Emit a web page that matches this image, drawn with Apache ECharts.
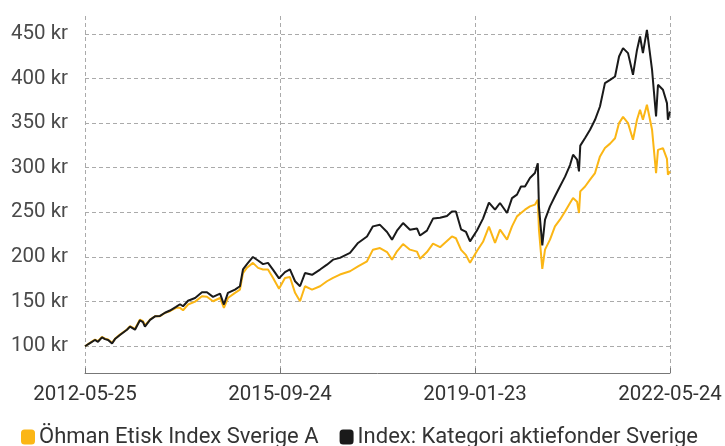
<!DOCTYPE html>
<html>
<head>
<meta charset="utf-8">
<script src="https://cdn.jsdelivr.net/npm/echarts@6/dist/echarts.min.js"></script>
<style>
  html, body { margin: 0; padding: 0; background: #fff; }
  #chart { width: 725px; height: 446px; }
</style>
</head>
<body>
<div id="chart"></div>
<script>
const dates = [
  '2012-05-25', '2012-06-25', '2012-07-26', '2012-08-14', '2012-09-08', '2012-09-27', '2012-10-16', '2012-11-10',
  '2012-11-28', '2012-12-29', '2013-02-11', '2013-03-02', '2013-04-02', '2013-05-03', '2013-05-22', '2013-06-03',
  '2013-07-05', '2013-08-05', '2013-09-05', '2013-10-06', '2013-11-06', '2013-12-14', '2014-01-08', '2014-01-27',
  '2014-02-27', '2014-04-12', '2014-05-25', '2014-06-25', '2014-08-02', '2014-09-15', '2014-10-09', '2014-11-03',
  '2014-12-17', '2015-01-17', '2015-02-05', '2015-03-02', '2015-04-08', '2015-05-10', '2015-06-10', '2015-07-11',
  '2015-08-11', '2015-09-18', '2015-10-25', '2015-11-25', '2015-12-27', '2016-01-27', '2016-02-27', '2016-04-11',
  '2016-05-31', '2016-07-13', '2016-08-20', '2016-10-02', '2016-12-04', '2017-01-23', '2017-03-20', '2017-04-26',
  '2017-06-09', '2017-07-23', '2017-08-23', '2017-09-23', '2017-10-31', '2017-12-13', '2018-01-26', '2018-02-14',
  '2018-03-29', '2018-05-06', '2018-06-19', '2018-08-01', '2018-09-01', '2018-09-26', '2018-10-28', '2018-11-28',
  '2018-12-23', '2019-02-05', '2019-03-14', '2019-04-20', '2019-05-28', '2019-06-28', '2019-08-11', '2019-09-11',
  '2019-10-12', '2019-11-06', '2019-12-01', '2020-01-01', '2020-02-01', '2020-02-19', '2020-02-26', '2020-03-18',
  '2020-04-04', '2020-05-05', '2020-06-05', '2020-07-06', '2020-08-07', '2020-09-07', '2020-09-26', '2020-10-21',
  '2020-11-02', '2020-11-10', '2020-12-10', '2021-01-10', '2021-02-10', '2021-03-13', '2021-04-13', '2021-05-15',
  '2021-06-15', '2021-07-10', '2021-08-04', '2021-09-04', '2021-10-05', '2021-10-30', '2021-11-18', '2021-12-06',
  '2021-12-31', '2022-02-01', '2022-02-26', '2022-03-10', '2022-04-10', '2022-05-05', '2022-05-11', '2022-05-24'
]

const ohman = [
  100, 103.8, 107.5, 105.6, 110.5, 108.3, 107.5, 103.8,
  108.3, 113, 118.7, 122.4, 119.5, 129.9, 128, 123.2,
  129.9, 133.6, 133.6, 137.4, 139.2, 143, 143, 140.3,
  146.7, 150, 156, 155.5, 150.4, 154, 143, 154,
  159.8, 163.5, 182, 188, 193.4, 187.8, 186, 185.9,
  176.6, 164.5, 176.5, 177.5, 159.8, 150.4, 167.2, 163.5,
  167.2, 172.8, 176.6, 180.3, 184, 189.5, 195.2, 208.2,
  210, 205.5, 197, 206.3, 214.5, 208.2, 206, 198,
  205.5, 215, 211, 218, 223, 221, 208, 202,
  193.4, 207, 217, 234, 215.7, 230.6, 219.4, 234.3,
  245.5, 249.3, 253, 256.7, 258.6, 264.2, 230.6, 186.6,
  208.2, 219.4, 234.3, 241.8, 251, 260.5, 266, 262,
  249.3, 273.5, 279, 286.6, 294, 312.7, 322, 327,
  333, 350, 357, 350, 331.4, 353.7, 364.9, 353.7,
  370.5, 342.6, 294, 320, 322, 310, 292.2, 295.9
]

const kategori = [
  100, 103.5, 107, 105, 110, 108, 107, 103,
  108, 112.5, 118.5, 122, 118.5, 129, 127, 122,
  129.5, 133.5, 134, 137.5, 140, 144, 147, 144.8,
  151, 154, 160.4, 160.5, 155.3, 159, 146.7, 159.8,
  163.5, 167.2, 186, 192, 200, 196, 192, 193.4,
  185.9, 176, 183, 186, 172.8, 167.2, 182, 180,
  185.9, 191.4, 197, 199, 204.5, 215.7, 223, 234.3,
  236, 228, 219.4, 229.5, 238, 230.6, 232, 224,
  229.5, 243, 244, 246, 251, 251, 231, 228,
  217.5, 230, 243, 261, 253, 260.5, 249.3, 266,
  269.8, 279, 279, 288.5, 294, 305, 256.7, 213,
  241.8, 256.7, 268, 279, 290, 303, 314.6, 309,
  295.9, 324.8, 333.3, 342.6, 353.7, 368.6, 394.8, 398.5,
  402.2, 424.6, 434, 428.4, 404.1, 432, 447, 428.4,
  454.5, 409.7, 357.4, 392.9, 387.3, 372.4, 353.7, 363
]

const yTicks = [100, 150, 200, 250, 300, 350, 400, 450]
const xTicks = ['2012-05-25', '2015-09-24', '2019-01-23', '2022-05-24']

const seriesNames = ['Öhman Etisk Index Sverige A', 'Index: Kategori aktiefonder Sverige']
const colors = ['#fbb615', '#1a1a1a']

const font = 'Roboto'
const xTickTimes = xTicks.map(d => new Date(d + 'T00:00:00Z').getTime())

const chart = echarts.init(document.getElementById('chart'), null, { renderer: 'canvas' })
chart.setOption({
  animation: false,
  color: colors,
  grid: { left: 85, right: 55, top: 16, bottom: 73, containLabel: false },
  legend: {
    left: 16,
    top: 421,
    icon: 'roundRect',
    itemWidth: 14,
    itemHeight: 15,
    itemGap: 21,
    textStyle: { fontFamily: font, fontSize: 22, color: '#333', padding: [0, 0, 0, -1] },
    data: seriesNames
  },
  xAxis: {
    type: 'time',
    min: xTickTimes[0],
    max: xTickTimes[3],
    axisLine: { lineStyle: { color: '#777', width: 1 } },
    axisTick: { show: true, customValues: xTickTimes, length: 5, inside: true, lineStyle: { color: '#777' } },
    axisLabel: {
      customValues: xTickTimes,
      formatter: '{yyyy}-{MM}-{dd}',
      fontFamily: font,
      fontSize: 20.5,
      color: '#333',
      margin: 11,
      hideOverlap: false,
      showMinLabel: true,
      showMaxLabel: true
    },
    splitLine: { show: true, lineStyle: { color: '#aaa', type: [4, 3], width: 1 } }
  },
  yAxis: {
    type: 'value',
    min: 70,
    max: 470,
    axisLine: { show: false },
    axisTick: { show: false, customValues: yTicks },
    axisLabel: {
      customValues: yTicks,
      formatter: v => v + ' kr',
      fontFamily: font,
      fontSize: 20.5,
      color: '#4a4a4a',
      margin: 17
    },
    splitLine: { show: true, lineStyle: { color: '#aaa', type: [4, 3], width: 1 } }
  },
  series: [
    {
      name: seriesNames[0],
      type: 'line',
      showSymbol: false,
      lineStyle: { width: 2 },
      z: 2,
      data: dates.map((d, i) => [d, ohman[i]])
    },
    {
      name: seriesNames[1],
      type: 'line',
      showSymbol: false,
      lineStyle: { width: 2 },
      z: 3,
      data: dates.map((d, i) => [d, kategori[i]])
    }
  ]
})
</script>
</body>
</html>
